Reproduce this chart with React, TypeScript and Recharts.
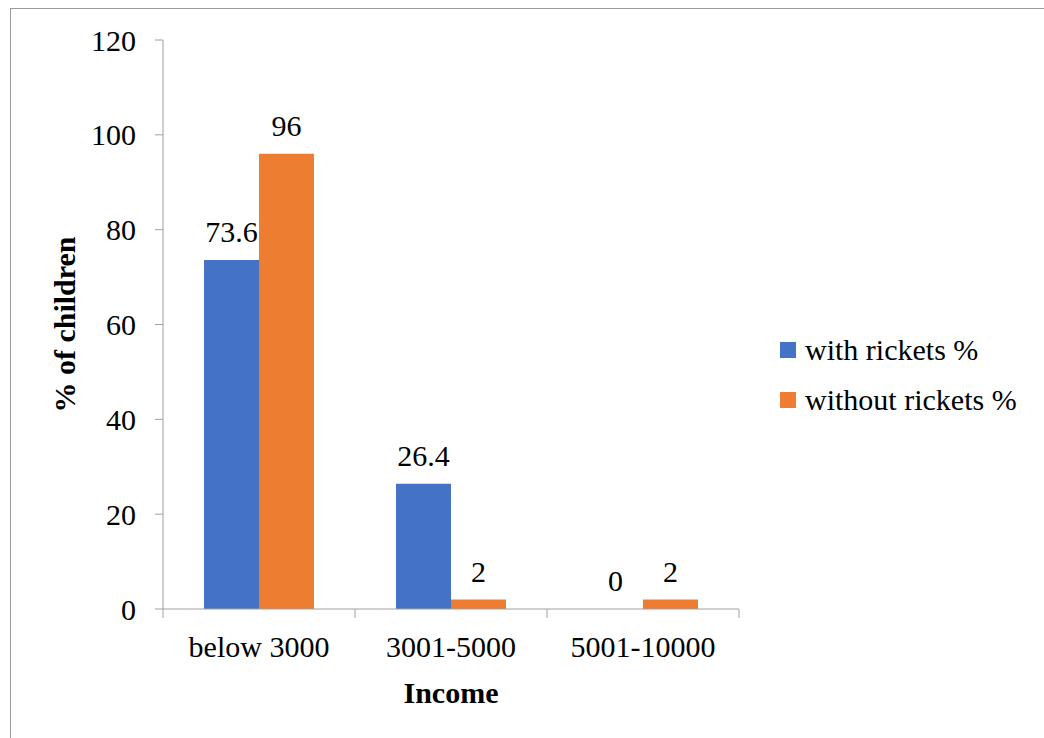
import { BarChart, Bar, XAxis, YAxis, Legend, LabelList } from "recharts";

const categories = ["below 3000", "3001-5000", "5001-10000"];
const withRickets = [73.6, 26.4, 0];
const withoutRickets = [96, 2, 2];
const yTicks = [0, 20, 40, 60, 80, 100, 120];

const FONT = '"Liberation Serif", "Times New Roman", Times, "DejaVu Serif", serif';
const AXIS = "#a0a0a0";
const BLUE = "#4472C4";
const ORANGE = "#ED7D31";
const X_TICK = 9;
const X_MARGIN = 18;
const LABEL_GAP = 18;

const data = categories.map((name, i) => ({
  name,
  with: withRickets[i],
  without: withoutRickets[i],
}));

function YTitle(props: any) {
  const vb = props.viewBox || { x: 0, y: 0, height: 0 };
  const cx = vb.x + 64;
  const cy = vb.y + vb.height / 2;
  return (
    <text
      x={cx}
      y={cy}
      transform={`rotate(-90 ${cx} ${cy})`}
      textAnchor="middle"
      dominantBaseline="central"
      fontFamily={FONT}
      fontSize={30}
      fontWeight="bold"
      fill="#000"
    >
      % of children
    </text>
  );
}

// category label + tick marks on the band edges (Excel style)
function CatTick(props: any) {
  const { x, y, payload, index, visibleTicksCount } = props;
  const half = payload.offset || 0;
  const y1 = y - X_MARGIN - X_TICK;
  const y2 = y - X_MARGIN;
  return (
    <g>
      <line x1={x - half} x2={x - half} y1={y1} y2={y2} stroke={AXIS} />
      {index === visibleTicksCount - 1 && (
        <line x1={x + half} x2={x + half} y1={y1} y2={y2} stroke={AXIS} />
      )}
      <text x={x} y={y} dy="0.71em" textAnchor="middle" fontFamily={FONT} fontSize={30} fill="#000">
        {payload.value}
      </text>
    </g>
  );
}

function ValueLabel(props: any) {
  const { x, y, width, value } = props;
  return (
    <text
      x={Number(x) + Number(width) / 2}
      y={Number(y) - LABEL_GAP}
      textAnchor="middle"
      fontFamily={FONT}
      fontSize={30}
      fill="#000"
    >
      {value}
    </text>
  );
}

// recharts drops labels of zero-height bars; draw the "with" zero label next to its orange neighbour
function ZeroWithLabel(props: any) {
  const { x, y, width, height, index } = props;
  if (withRickets[index] !== 0) return null;
  return (
    <text
      x={Number(x) - Number(width) / 2}
      y={Number(y) + Number(height) - LABEL_GAP}
      textAnchor="middle"
      fontFamily={FONT}
      fontSize={30}
      fill="#000"
    >
      {withRickets[index]}
    </text>
  );
}

function LegendBox(props: any) {
  const items = props.payload || [];
  return (
    <div style={{ fontFamily: FONT, fontSize: 30, color: "#000" }}>
      {items.map((e: any) => (
        <div key={e.value} style={{ display: "flex", alignItems: "center", height: 50 }}>
          <span style={{ width: 16, height: 16, background: e.color, marginRight: 9, display: "inline-block" }} />
          <span>{e.value}</span>
        </div>
      ))}
    </div>
  );
}

export default function App() {
  return (
    <div
      style={{
        position: "fixed",
        left: 0,
        top: 0,
        width: 1044,
        height: 738,
        overflow: "hidden",
        background: "#fff",
      }}
    >
      <div
        style={{
          position: "absolute",
          left: 10,
          top: 8,
          width: 1100,
          height: 800,
          border: "1px solid #9a9a9a",
        }}
      />
      <BarChart
        width={1044}
        height={738}
        data={data}
        margin={{ top: 40, right: 305, bottom: 0, left: 0 }}
        barGap={0}
        barSize={55}
      >
        <XAxis
          dataKey="name"
          height={129}
          tickLine={false}
          tickSize={X_TICK}
          tickMargin={X_MARGIN}
          axisLine={{ stroke: AXIS }}
          tick={(p: any) => <CatTick {...p} />}
          label={{
            value: "Income",
            position: "insideBottom",
            offset: 35,
            fontFamily: FONT,
            fontSize: 30,
            fontWeight: "bold",
            fill: "#000",
          }}
        />
        <YAxis
          width={163}
          domain={[0, 120]}
          ticks={yTicks}
          tickSize={8}
          tickMargin={19}
          axisLine={{ stroke: AXIS }}
          tickLine={{ stroke: AXIS }}
          tick={{ fontFamily: FONT, fontSize: 30, fill: "#000" }}
          label={{ content: (p: any) => <YTitle {...p} /> }}
        />
        <Legend
          layout="vertical"
          align="center"
          verticalAlign="middle"
          content={(p: any) => <LegendBox {...p} />}
          wrapperStyle={{ left: 780, top: 325, width: 260 }}
        />
        <Bar dataKey="with" name="with rickets %" fill={BLUE} isAnimationActive={false}>
          <LabelList dataKey="with" content={(p: any) => <ValueLabel {...p} />} />
        </Bar>
        <Bar dataKey="without" name="without rickets %" fill={ORANGE} isAnimationActive={false}>
          <LabelList dataKey="without" content={(p: any) => <ValueLabel {...p} />} />
          <LabelList dataKey="with" content={(p: any) => <ZeroWithLabel {...p} />} />
        </Bar>
      </BarChart>
    </div>
  );
}
